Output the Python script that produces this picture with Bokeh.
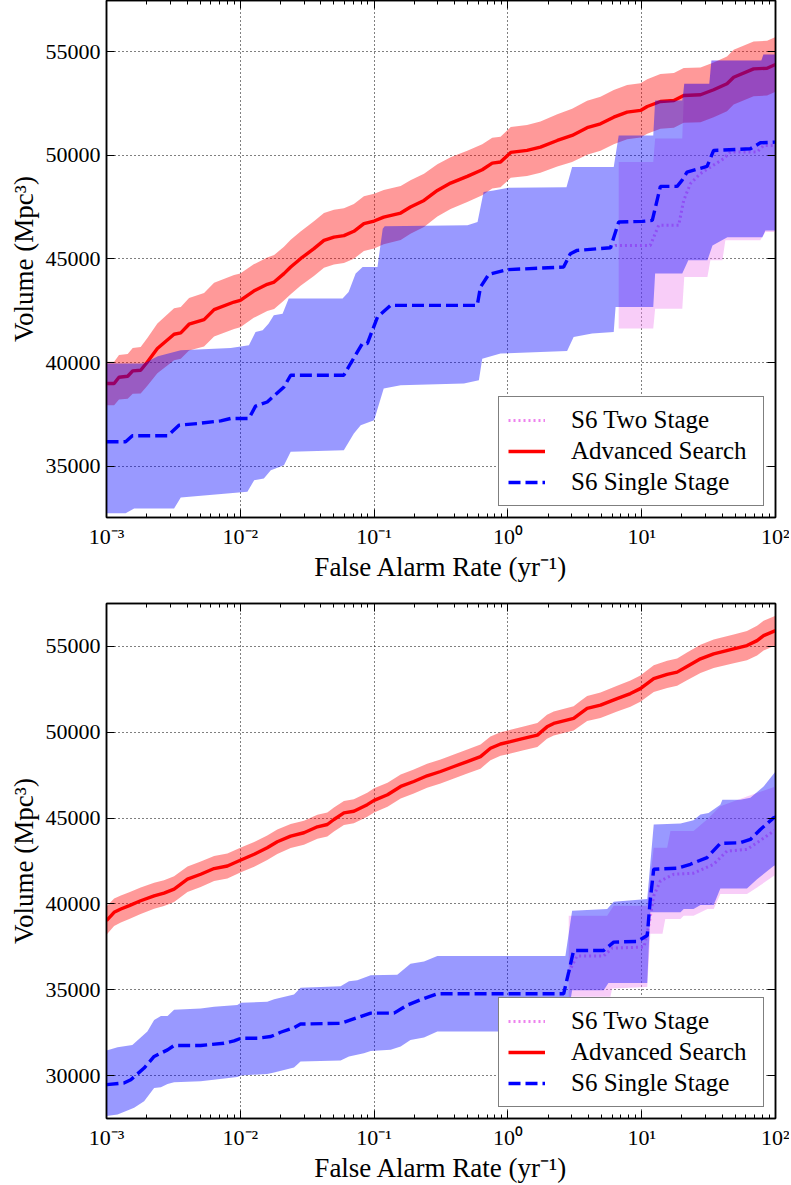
from bokeh.plotting import figure
from bokeh.layouts import column
from bokeh.models import (LogAxis, LinearAxis, LogTicker, SingleIntervalTicker,
                          CustomJSTickFormatter, Legend, LegendItem, Range1d)
from bokeh.embed import file_html
from bokeh.resources import INLINE

FONT = "Liberation Serif"

# ------------------------------------------------------------------ top panel
TOP_ADV_FAR = [0.001, 0.00114, 0.00124, 0.00144, 0.00157, 0.0018, 0.00202, 0.0024, 0.0032, 0.00359,
               0.00414, 0.00536, 0.00637, 0.00898, 0.01, 0.0126, 0.0159, 0.0179, 0.0212, 0.0238,
               0.0282, 0.0355, 0.0422, 0.0501, 0.0595, 0.0706, 0.0839, 0.1, 0.118, 0.158,
               0.187, 0.236, 0.297, 0.373, 0.497, 0.643, 0.764, 0.881, 1.05, 1.39,
               1.75, 2.34, 3.02, 3.91, 4.92, 6.18, 7.78, 9.8, 11.0, 13.8,
               17.4, 20.6, 27.5, 34.5, 43.4, 48.7, 68.6, 86.5, 100]
TOP_ADV_VOL = [38990, 38990, 39290, 39340, 39600, 39630, 40030, 40680, 41365, 41430,
               41850, 42070, 42555, 42920, 43000, 43450, 43775, 43885, 44290, 44610,
               45010, 45495, 45895, 46050, 46120, 46330, 46700, 46825, 47015, 47210,
               47500, 47820, 48300, 48655, 48980, 49300, 49620, 49670, 50135, 50230,
               50390, 50710, 50955, 51325, 51515, 51835, 52075, 52160, 52350, 52590,
               52640, 52880, 52915, 53155, 53445, 53760, 54165, 54195, 54375]
TOP_ADV_ERR = [1050, 1050, 1070, 1080, 1100, 1120, 1150, 1200, 1250, 1250,
               1270, 1290, 1300, 1300, 1300, 1290, 1290, 1300, 1300, 1310,
               1310, 1320, 1320, 1320, 1320, 1320, 1320, 1320, 1310, 1300,
               1290, 1280, 1260, 1250, 1240, 1230, 1220, 1220, 1220, 1230,
               1240, 1260, 1280, 1300, 1300, 1310, 1310, 1310, 1310, 1320,
               1320, 1320, 1320, 1320, 1320, 1320, 1320, 1320, 1320]

TOP_S1_FAR = [0.001, 0.00139, 0.00156, 0.00286, 0.00348, 0.00478, 0.00714, 0.00848, 0.0116, 0.0130,
              0.0159, 0.0212, 0.0238, 0.0594, 0.0667, 0.0816, 0.0890, 0.106, 0.133, 0.590,
              0.624, 0.720, 0.989, 2.61, 2.93, 3.29, 5.84, 6.73, 10.1, 12.0,
              13.8, 18.4, 20.0, 21.8, 30.8, 34.5, 64.9, 77.1, 100]
TOP_S1_VOL = [36180, 36180, 36470, 36470, 36980, 37060, 37190, 37305, 37305, 37900,
              38100, 38825, 39390, 39390, 39955, 40915, 40915, 42200, 42760, 42760,
              43645, 44255, 44480, 44610, 45250, 45410, 45540, 46780, 46810, 46855,
              48495, 48495, 48785, 49185, 49460, 50230, 50310, 50600, 50630]
TOP_S1_HI_FAR = [0.001, 0.0019, 0.00242, 0.00359, 0.00848, 0.0116, 0.0130, 0.0147, 0.0163, 0.0178,
                 0.0207, 0.0230, 0.0581, 0.0645, 0.0728, 0.0821, 0.106, 0.116, 0.120, 0.499,
                 0.593, 0.658, 0.782, 1.01, 2.74, 3.02, 6.18, 6.73, 12.2, 12.6,
                 20.1, 20.8, 32.0, 33.2, 78.4, 81.2, 100]
TOP_S1_HI_VOL = [39950, 39950, 40300, 40600, 40700, 40835, 41475, 41560, 41880, 42280,
                 42360, 43085, 43085, 43400, 44290, 44610, 44610, 46455, 46570, 46620,
                 46775, 48220, 48300, 48430, 48460, 49430, 49430, 50950, 50950, 52640,
                 52640, 53445, 53445, 54565, 54565, 54855, 54855]
TOP_S1_LO_FAR = [0.001, 0.00139, 0.00161, 0.0032, 0.00359, 0.0113, 0.0127, 0.0150, 0.0169, 0.0212,
                 0.0238, 0.0594, 0.0706, 0.0794, 0.1, 0.118, 0.158, 0.469, 0.607, 0.643,
                 0.881, 2.77, 3.10, 4.26, 6.18, 6.38, 12.2, 12.6, 20.1, 22.3,
                 31.0, 33.8, 43.7, 79.8, 84.0, 100]
TOP_S1_LO_VOL = [32730, 32730, 32970, 32970, 33500, 33770, 34330, 34410, 34810, 35050,
                 35695, 35775, 36580, 36980, 37220, 38750, 38910, 38990, 39150, 40190,
                 40435, 40560, 41235, 41400, 41480, 42680, 42680, 44290, 44290, 44930,
                 44930, 45650, 46040, 46040, 46375, 46375]

TOP_S2_FAR = [5.84, 6.38, 11.6, 13.4, 18.9, 20.6, 23.1, 27.4, 32.6, 40.9, 45.9, 72.8, 81.5, 100]
TOP_S2_VOL = [45540, 45650, 45650, 46620, 46620, 47820, 48625, 49110, 49425, 49830, 50150, 50150, 50470, 50470]
TOP_S2_HI_FAR = [6.73, 12.2, 12.6, 20.1, 20.8, 32.0, 33.2, 78.4, 81.2, 100]
TOP_S2_HI_VOL = [49670, 49670, 50800, 50800, 53445, 53445, 54565, 54565, 54855, 54855]
TOP_S2_LO_FAR = [6.73, 12.2, 12.6, 20.1, 20.8, 31.0, 32.6, 40.1, 42.2, 76.9, 84.0, 100]
TOP_S2_LO_VOL = [41640, 41640, 42600, 42600, 44125, 44125, 44930, 44930, 45900, 45900, 46295, 46295]

# --------------------------------------------------------------- bottom panel
BOT_ADV_FAR = [0.001, 0.00114, 0.00128, 0.00148, 0.0018, 0.00227, 0.00269, 0.0032, 0.00403, 0.00506,
               0.00637, 0.00801, 0.0101, 0.0127, 0.0159, 0.0189, 0.0238, 0.0299, 0.0377, 0.0447,
               0.0501, 0.0595, 0.0706, 0.0889, 0.1, 0.126, 0.158, 0.198, 0.249, 0.314,
               0.395, 0.497, 0.624, 0.741, 0.881, 1.045, 1.31, 1.66, 1.96, 2.20,
               3.10, 3.48, 3.91, 4.92, 6.55, 8.24, 9.77, 12.3, 15.5, 18.4,
               21.8, 27.5, 34.5, 48.7, 61.2, 72.8, 81.5, 100]
BOT_ADV_VOL = [39030, 39515, 39705, 39900, 40185, 40475, 40630, 40860, 41440, 41730,
               42060, 42210, 42560, 42890, 43275, 43620, 43950, 44145, 44490, 44625,
               44915, 45300, 45395, 45780, 46030, 46360, 46840, 47130, 47460, 47710,
               48000, 48290, 48575, 49060, 49310, 49445, 49640, 49830, 50310, 50510,
               50800, 51090, 51380, 51570, 51955, 52245, 52535, 53115, 53360, 53495,
               53825, 54270, 54560, 54850, 55040, 55330, 55620, 55910]
BOT_ADV_ERR = [820, 800, 790, 780, 770, 760, 750, 750, 740, 740,
               730, 730, 720, 720, 710, 710, 700, 700, 700, 700,
               700, 700, 700, 700, 700, 700, 700, 700, 700, 700,
               700, 700, 700, 690, 690, 690, 690, 700, 700, 700,
               710, 720, 730, 740, 750, 760, 770, 780, 790, 800,
               810, 820, 830, 840, 850, 860, 860, 870]

BOT_S1_FAR = [0.001, 0.00135, 0.00152, 0.00191, 0.00227, 0.00286, 0.0032, 0.00506, 0.00755, 0.00898,
              0.0101, 0.0134, 0.0169, 0.0200, 0.0252, 0.0282, 0.0562, 0.0749, 0.0943, 0.141,
              0.177, 0.222, 0.297, 2.61, 2.85, 3.10, 5.20, 6.18, 9.25, 11.0,
              11.6, 12.3, 18.4, 23.1, 30.8, 38.7, 54.6, 64.9, 77.1, 96.8, 100]
BOT_S1_VOL = [29480, 29580, 29770, 30445, 31120, 31505, 31760, 31760, 31890, 32025,
              32180, 32180, 32280, 32530, 32800, 33010, 33050, 33380, 33645, 33645,
              34110, 34420, 34770, 34770, 36040, 37290, 37290, 37780, 37815, 38160,
              40280, 42020, 42080, 42310, 42700, 43525, 43565, 43755, 44335, 45010, 45050]
BOT_S1_HI_FAR = [0.001, 0.00121, 0.00156, 0.00202, 0.00227, 0.00255, 0.00286, 0.0032, 0.00506, 0.00637,
                 0.0095, 0.0101, 0.0159, 0.0179, 0.0252, 0.0282, 0.0562, 0.0649, 0.0749, 0.0943,
                 0.149, 0.187, 0.236, 0.297, 2.69, 3.02, 5.52, 6.18, 11.0, 12.3,
                 19.5, 24.4, 27.5, 31.6, 38.7, 40.1, 54.6, 64.9, 81.5, 100]
BOT_S1_HI_VOL = [31470, 31660, 31795, 32570, 33240, 33475, 33475, 33845, 33920, 34015,
                 34110, 34245, 34305, 34455, 34725, 35115, 35205, 35500, 35555, 35845,
                 35885, 36520, 36655, 36970, 36970, 39605, 39705, 40125, 40285, 44625,
                 44680, 44875, 45200, 45300, 45780, 46070, 46070, 46180, 46840, 47710]
BOT_S1_LO_FAR = [0.001, 0.00121, 0.00161, 0.00191, 0.00227, 0.00255, 0.00286, 0.0032, 0.00506, 0.0095,
                 0.0101, 0.0159, 0.0179, 0.0252, 0.0282, 0.0562, 0.0649, 0.0839, 0.0943, 0.133,
                 0.158, 0.187, 0.236, 0.297, 2.69, 3.02, 5.20, 5.64, 11.0, 11.6,
                 19.5, 20.6, 24.4, 27.5, 34.5, 38.7, 61.2, 72.8, 96.8, 100]
BOT_S1_LO_VOL = [27650, 27745, 28130, 28520, 29290, 29330, 29520, 29620, 29675, 29925,
                 30020, 30100, 30195, 30485, 30835, 30890, 31120, 31315, 31445, 31505,
                 31700, 32085, 32225, 32570, 32570, 34975, 34975, 35400, 35400, 39515,
                 39515, 39705, 39705, 39935, 39935, 40900, 40900, 41440, 42210, 42250]

BOT_S2_FAR = [2.85, 3.29, 5.20, 6.01, 10.4, 11.3, 12.3, 13.8, 17.4, 24.4, 34.5, 43.4, 61.2, 72.8, 96.8, 100]
BOT_S2_VOL = [36040, 36970, 36970, 37430, 37490, 38740, 40475, 41340, 41730, 41790, 42310, 43080, 43175, 43565, 44240, 44300]
BOT_S2_HI_FAR = [2.85, 5.52, 6.18, 11.0, 12.3, 15.5, 16.4, 24.4, 30.8, 38.7, 61.2, 100]
BOT_S2_HI_VOL = [39320, 39320, 39900, 39900, 43275, 43275, 44240, 44240, 44920, 45680, 46260, 46840]
BOT_S2_LO_FAR = [2.85, 5.84, 6.01, 11.0, 11.6, 14.3, 15.0, 19.5, 20.6, 24.4, 31.0, 34.5, 38.7, 61.2, 72.8, 96.8, 100]
BOT_S2_LO_VOL = [34595, 34595, 35075, 35170, 38260, 38260, 39130, 39130, 39320, 39320, 39705, 39705, 40575, 40575, 40960, 41630, 41700]

LABELS = ["S6 Two Stage", "Advanced Search", "S6 Single Stage"]
X_LABEL = "False Alarm Rate (yr\u207b\u00b9)"
Y_LABEL = "Volume (Mpc\u00b3)"

RED = "#ff0000"
BLUE = "#0000ff"
VIOLET = "#ee82ee"

SUP_JS = """
const e = Math.round(Math.log10(tick));
const sup = {"-3": "\u207b\u00b3", "-2": "\u207b\u00b2", "-1": "\u207b\u00b9",
             "0": "\u2070", "1": "\u00b9", "2": "\u00b2"};
return "10" + sup[String(e)];
"""


def style_axis(ax, log):
    ax.axis_line_color = "black"
    ax.axis_line_width = 1.5
    ax.major_tick_in = 8
    ax.major_tick_out = 0
    ax.major_tick_line_color = "black"
    ax.major_tick_line_width = 1
    if log:
        ax.minor_tick_in = 4
        ax.minor_tick_out = 0
        ax.minor_tick_line_color = "black"
        ax.minor_tick_line_width = 1
    else:
        ax.minor_tick_line_color = None
    ax.major_label_text_font = FONT
    ax.major_label_text_font_size = "22px"
    ax.major_label_text_color = "black"
    ax.axis_label_text_font = FONT
    ax.axis_label_text_font_size = "27px"
    ax.axis_label_text_font_style = "normal"
    ax.axis_label_text_color = "black"


def hide_labels(ax):
    ax.major_label_text_font_size = "1px"
    ax.major_label_text_alpha = 0
    ax.major_label_standoff = 0


def band(p, x_hi, y_hi, x_lo, y_lo, color):
    xs = list(x_hi) + list(reversed(x_lo))
    ys = list(y_hi) + list(reversed(y_lo))
    p.patch(xs, ys, fill_color=color, fill_alpha=0.4, line_color=None)


def panel(height, btop, bbot, y0, y1, adv, adv_err, s1, s1_hi, s1_lo, s2, s2_hi, s2_lo):
    p = figure(width=789, height=height, x_axis_type="log",
               x_range=Range1d(1e-3, 1e2), y_range=Range1d(y0, y1),
               output_backend="svg", toolbar_location=None,
               min_border_left=106, min_border_right=14,
               min_border_top=btop, min_border_bottom=bbot,
               x_axis_label=X_LABEL, y_axis_label=Y_LABEL)
    p.background_fill_color = "white"
    p.border_fill_color = "white"
    p.outline_line_color = "black"
    p.outline_line_width = 1.5

    xt = LogTicker(desired_num_ticks=6, num_minor_ticks=10)
    yt = SingleIntervalTicker(interval=5000, num_minor_ticks=0)
    p.xaxis.ticker = xt
    p.xaxis.formatter = CustomJSTickFormatter(code=SUP_JS)
    p.yaxis.ticker = yt
    for ax in p.xaxis:
        style_axis(ax, True)
        ax.major_label_standoff = 6
        ax.axis_label_standoff = 0
    for ax in p.yaxis:
        style_axis(ax, False)
        ax.major_label_standoff = 6
        ax.axis_label_standoff = 4

    top_ax = LogAxis(ticker=xt)
    style_axis(top_ax, True)
    hide_labels(top_ax)
    p.add_layout(top_ax, "above")
    right_ax = LinearAxis(ticker=yt)
    style_axis(right_ax, False)
    hide_labels(right_ax)
    p.add_layout(right_ax, "right")

    for g in (p.xgrid, p.ygrid):
        g.grid_line_color = "black"
        g.grid_line_dash = "1 3"
        g.grid_line_width = 1
        g.grid_line_alpha = 1.0

    # two stage
    band(p, s2_hi[0], s2_hi[1], s2_lo[0], s2_lo[1], VIOLET)
    l2 = p.line(s2[0], s2[1], line_color=VIOLET, line_width=3, line_dash="2 3")
    # advanced
    adv_hi = [v + e for v, e in zip(adv[1], adv_err)]
    adv_lo = [v - e for v, e in zip(adv[1], adv_err)]
    band(p, adv[0], adv_hi, adv[0], adv_lo, RED)
    la = p.line(adv[0], adv[1], line_color=RED, line_width=3.4)
    # single stage
    band(p, s1_hi[0], s1_hi[1], s1_lo[0], s1_lo[1], BLUE)
    l1 = p.line(s1[0], s1[1], line_color=BLUE, line_width=3.4, line_dash="12 5")

    legend = Legend(items=[LegendItem(label=LABELS[0], renderers=[l2]),
                           LegendItem(label=LABELS[1], renderers=[la]),
                           LegendItem(label=LABELS[2], renderers=[l1])],
                    location="bottom_right")
    legend.margin = 11
    legend.padding = 9
    legend.spacing = 3
    legend.glyph_width = 37
    legend.glyph_height = 28
    legend.label_height = 28
    legend.label_width = 183
    legend.label_standoff = 26
    legend.label_text_font = FONT
    legend.label_text_font_size = "25px"
    legend.label_text_color = "black"
    legend.border_line_color = "black"
    legend.border_line_width = 1.5
    legend.background_fill_color = "white"
    legend.background_fill_alpha = 1.0
    p.add_layout(legend)
    return p


p_top = panel(590, 0, 73, 32530, 57460,
              (TOP_ADV_FAR, TOP_ADV_VOL), TOP_ADV_ERR,
              (TOP_S1_FAR, TOP_S1_VOL), (TOP_S1_HI_FAR, TOP_S1_HI_VOL), (TOP_S1_LO_FAR, TOP_S1_LO_VOL),
              (TOP_S2_FAR, TOP_S2_VOL), (TOP_S2_HI_FAR, TOP_S2_HI_VOL), (TOP_S2_LO_FAR, TOP_S2_LO_VOL))
p_bot = panel(595, 13, 64, 27510, 57490,
              (BOT_ADV_FAR, BOT_ADV_VOL), BOT_ADV_ERR,
              (BOT_S1_FAR, BOT_S1_VOL), (BOT_S1_HI_FAR, BOT_S1_HI_VOL), (BOT_S1_LO_FAR, BOT_S1_LO_VOL),
              (BOT_S2_FAR, BOT_S2_VOL), (BOT_S2_HI_FAR, BOT_S2_HI_VOL), (BOT_S2_LO_FAR, BOT_S2_LO_VOL))

layout = column(p_top, p_bot, spacing=0)
open("out.html", "w").write(file_html(layout, INLINE))
